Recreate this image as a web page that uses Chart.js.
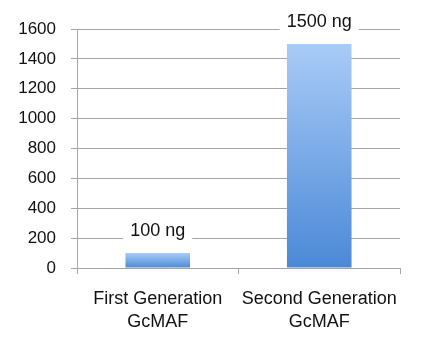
<!DOCTYPE html>
<html>
<head>
<meta charset="utf-8">
<script src="https://cdn.jsdelivr.net/npm/chart.js@4/dist/chart.umd.min.js"></script>
<style>
  html, body { margin: 0; padding: 0; background: #fff; }
  #wrap { width: 428px; height: 347px; }
</style>
</head>
<body>
<div id="wrap"><canvas id="gcmaf"></canvas></div>
<script>
const categories = [['First Generation', 'GcMAF'], ['Second Generation', 'GcMAF']];
const amounts = [100, 1500];
const valueLabels = ['100 ng', '1500 ng'];
const yMin = 0, yMax = 1600, yStep = 200;

const FONT = '"Liberation Sans", Arial, sans-serif';
const GRID = '#a6a6a6';

// vertical gradient per bar, light at the top, darker at the base
function barFill(ctx) {
    const chart = ctx.chart;
    const y = chart.scales && chart.scales.y;
    if (!chart.chartArea || !y || ctx.raw == null) return '#6fa3e6';
    const top = y.getPixelForValue(ctx.raw);
    const base = y.getPixelForValue(0);
    const g = chart.ctx.createLinearGradient(0, top, 0, base);
    g.addColorStop(0, '#a9cbf7');
    g.addColorStop(1, '#4b89d7');
    return g;
}

// value text above each bar on a white box that hides the gridline
const boxedLabels = {
    id: 'boxedLabels',
    afterDatasetsDraw(chart) {
        const c = chart.ctx;
        const meta = chart.getDatasetMeta(0);
        c.save();
        c.font = '18px ' + FONT;
        c.textAlign = 'center';
        c.textBaseline = 'middle';
        meta.data.forEach((bar, i) => {
            const text = valueLabels[i];
            const w = c.measureText(text).width;
            const cy = bar.y - 22;
            c.fillStyle = '#fff';
            c.fillRect(bar.x - w / 2 - 7, cy - 10, w + 14, 20);
            c.fillStyle = '#111';
            c.fillText(text, bar.x, cy);
        });
        c.restore();
    }
};

new Chart(document.getElementById('gcmaf'), {
    type: 'bar',
    data: {
        labels: categories,
        datasets: [{
            data: amounts,
            backgroundColor: barFill,
            borderWidth: 0,
            barPercentage: 0.8,
            categoryPercentage: 0.5
        }]
    },
    options: {
        responsive: true,
        maintainAspectRatio: false,
        animation: false,
        layout: { padding: { top: 29, right: 28, left: 0, bottom: 0 } },
        plugins: { legend: { display: false }, tooltip: { enabled: false } },
        scales: {
            x: {
                grid: { drawOnChartArea: false, drawTicks: true, tickLength: 6, color: GRID },
                border: { color: GRID },
                ticks: { color: '#111', font: { family: FONT, size: 18, lineHeight: 1.3 }, padding: 13, maxRotation: 0 },
                afterFit: s => { s.height = 79; }
            },
            y: {
                min: yMin,
                max: yMax,
                grid: { color: GRID, tickLength: 6 },
                border: { color: GRID },
                ticks: {
                    stepSize: yStep,
                    color: '#111',
                    font: { family: FONT, size: 17 },
                    padding: 15,
                    callback: v => String(v)
                },
                afterFit: s => { s.width = 77; }
            }
        }
    },
    plugins: [boxedLabels]
});
</script>
</body>
</html>
